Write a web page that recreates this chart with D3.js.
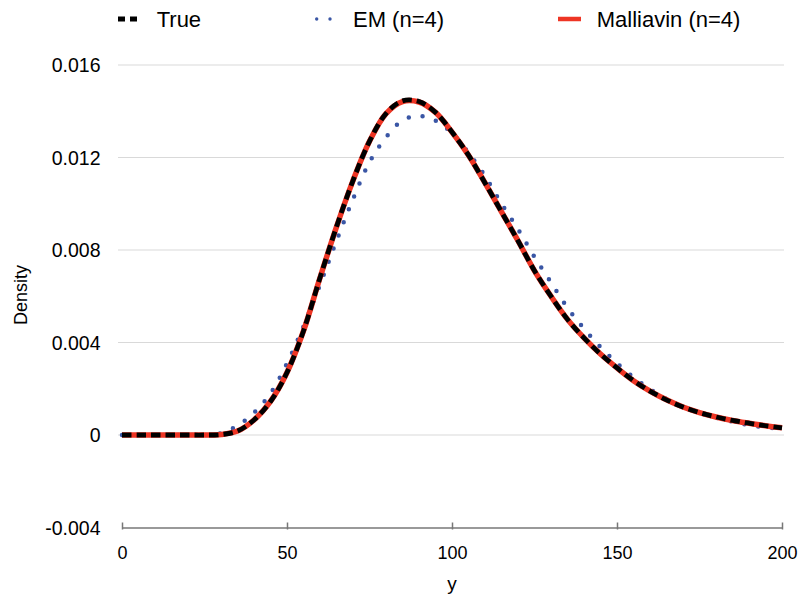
<!DOCTYPE html>
<html><head><meta charset="utf-8">
<script src="https://cdn.jsdelivr.net/npm/d3@7"></script>
<style>body{margin:0;background:#fff}svg{display:block}text{font-family:"Liberation Sans",Arial,sans-serif}</style>
</head><body><svg id="c" width="800" height="601"></svg>
<script>
const xs = [0,5,10,15,20,25,30,35,40,45,50,55,60,65,70,75,80,85,90,95,100,105,110,115,120,125,130,135,140,145,150,155,160,165,170,175,180,185,190,195,200];
const trueVals = [0,0,0,0,0,0,0.00002,0.00017,0.00065,0.00145,0.0027,0.0045,0.0068,0.0090,0.0110,0.0127,0.0139,0.01445,0.01442,0.01395,0.0131,0.0121,0.0109,0.00965,0.0084,0.0071,0.0060,0.0050,0.0042,0.0035,0.0029,0.00235,0.0019,0.00152,0.00121,0.00097,0.00078,0.00063,0.00051,0.0004,0.00031];
const emVals = [0,0,0,0,0,0,0.00008,0.0004,0.00096,0.0018,0.0031,0.0047,0.0065,0.0084,0.0102,0.0118,0.01287,0.0136,0.0138,0.0136,0.01305,0.0122,0.0112,0.0100,0.0089,0.0077,0.0066,0.0055,0.0046,0.0038,0.0031,0.0025,0.00198,0.00155,0.0012,0.00095,0.00075,0.00058,0.00043,0.00033,0.00026];
const mallVals = [0,0,0,0,0,0,0.00002,0.00017,0.00065,0.00145,0.0027,0.0045,0.0068,0.0090,0.0110,0.0127,0.0139,0.01442,0.0144,0.01395,0.0131,0.0121,0.0109,0.00965,0.0084,0.0071,0.0060,0.0050,0.0042,0.0035,0.0029,0.00235,0.0019,0.00152,0.00121,0.00097,0.00078,0.00063,0.00051,0.0004,0.00031];
const yTicks = [-0.004,0,0.004,0.008,0.012,0.016];
const yTickLabels = ["-0.004","0","0.004","0.008","0.012","0.016"];
const xTicks = [0,50,100,150,200];
const seriesNames = ["True","EM (n=4)","Malliavin (n=4)"];

const svg = d3.select("#c");
const x = d3.scaleLinear().domain([0,200]).range([122,782]);
const y = d3.scaleLinear().domain([-0.004,0.016]).range([527.5,65]);

// gridlines
svg.append("g").selectAll("line").data(yTicks.filter(d=>d>-0.004)).join("line")
  .attr("x1",118).attr("x2",784).attr("y1",d=>y(d)).attr("y2",d=>y(d))
  .attr("stroke","#d9d9d9").attr("stroke-width",1);

// y tick labels
svg.append("g").selectAll("text").data(yTicks).join("text")
  .attr("x",100.5).attr("y",d=>y(d)).attr("dy","0.36em").attr("text-anchor","end")
  .attr("font-size",19.5).attr("fill","#000").text((d,i)=>yTickLabels[i]);

// x axis
const xa = svg.append("g").attr("transform","translate(0,527.5)")
  .call(d3.axisBottom(x).tickValues(xTicks).tickSize(0).tickPadding(19));
xa.select(".domain").attr("stroke","#777").attr("stroke-width",1.5);
xa.selectAll(".tick text").attr("font-size",18).attr("fill","#000").attr("font-family","Liberation Sans, Arial, sans-serif");
xa.selectAll(".tick").append("line").attr("y1",-5).attr("y2",2).attr("stroke","#777").attr("stroke-width",1.5);

svg.append("text").attr("x",452).attr("y",590).attr("text-anchor","middle").attr("font-size",19).text("y");
svg.append("text").attr("transform","translate(27,295) rotate(-90)").attr("text-anchor","middle").attr("font-size",18).text("Density");

const line = vals => d3.line().x((d,i)=>x(xs[i])).y(d=>y(d)).curve(d3.curveCatmullRom.alpha(0.5))(vals);

svg.append("path").attr("d",line(emVals)).attr("fill","none").attr("stroke","#3a56a5")
  .attr("stroke-width",4.5).attr("stroke-linecap","round").attr("stroke-dasharray","0,14");
svg.append("path").attr("d",line(mallVals)).attr("fill","none").attr("stroke","#ee3524")
  .attr("stroke-width",5.5);
svg.append("path").attr("d",line(trueVals)).attr("fill","none").attr("stroke","#000")
  .attr("stroke-width",4.8).attr("stroke-dasharray","9.5,5");

// legend
const ly = 19;
const lg = svg.append("g");
lg.append("line").attr("x1",118).attr("x2",137).attr("y1",ly).attr("y2",ly).attr("stroke","#000").attr("stroke-width",5).attr("stroke-dasharray","7,5");
lg.selectAll("circle").data([316.7,330]).join("circle").attr("cx",d=>d).attr("cy",ly).attr("r",1.7).attr("fill","#3a56a5");
lg.append("line").attr("x1",558).attr("x2",581).attr("y1",ly).attr("y2",ly).attr("stroke","#ee3524").attr("stroke-width",4.5);
const lx = [156.7,353,596.7];
lg.selectAll("text").data(seriesNames).join("text").attr("x",(d,i)=>lx[i]).attr("y",ly).attr("dy","0.36em")
  .attr("font-size",22).attr("fill","#000").text(d=>d);
</script></body></html>
